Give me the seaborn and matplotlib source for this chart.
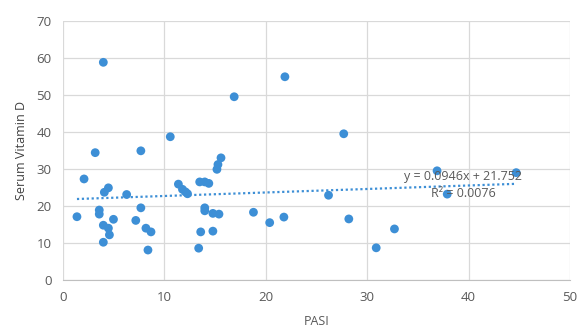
import numpy as np
import pandas as pd
import matplotlib
matplotlib.use("Agg")
import matplotlib.pyplot as plt
import seaborn as sns

# values
pasi = [1.4, 2.1, 3.2, 4.0, 3.6, 3.6, 4.1, 4.5, 4.0, 4.5, 4.6, 4.0, 5.0,
        6.3, 7.2, 7.7, 7.7, 8.2, 8.7, 8.4, 10.6, 11.4, 11.8, 12.1, 12.3,
        13.5, 14.0, 14.4, 14.0, 14.0, 14.8, 15.4, 13.6, 14.8, 13.4, 15.2,
        15.3, 15.6, 16.9, 21.9, 18.8, 20.4, 21.8, 27.7, 26.2, 28.2, 32.7,
        30.9, 36.9, 37.9, 44.7]
vit_d = [17.1, 27.3, 34.4, 58.8, 18.9, 17.8, 23.7, 24.9, 14.8, 14.0, 12.2,
         10.2, 16.4, 23.1, 16.1, 19.5, 34.9, 14.0, 13.0, 8.1, 38.7, 25.9,
         24.5, 23.8, 23.3, 26.5, 26.5, 26.1, 19.5, 18.7, 18.0, 17.8, 13.0,
         13.2, 8.6, 29.9, 31.2, 33.0, 49.5, 54.9, 18.3, 15.5, 17.0, 39.5,
         22.9, 16.5, 13.8, 8.7, 29.5, 23.2, 29.0]

# Excel linear trendline as printed on the chart
slope, intercept, r2 = 0.0946, 21.752, 0.0076

df = pd.DataFrame({"PASI": pasi, "Serum Vitamin D": vit_d})

sns.set_style("white")
plt.rcParams["font.family"] = ["Open Sans", "DejaVu Sans"]

fig = plt.figure(figsize=(5.81, 3.31), dpi=100)
ax = fig.add_axes([0.108, 0.154, 0.873, 0.783])

blue = "#3d8fd6"
grey = "#595959"

sns.scatterplot(data=df, x="PASI", y="Serum Vitamin D", ax=ax, color=blue,
                s=40, edgecolor="none", zorder=3)

xs = np.array([min(pasi), max(pasi)])
ax.plot(xs, slope * xs + intercept, color=blue, linestyle=(0, (1, 1.2)),
        linewidth=1.6, zorder=2)

ax.text(0.79, 0.40, f"y = {slope}x + {intercept}", transform=ax.transAxes,
        ha="center", va="center", color=grey, fontsize=9, zorder=4)
ax.text(0.79, 0.335, f"R² = {r2}", transform=ax.transAxes,
        ha="center", va="center", color=grey, fontsize=9, zorder=4)

ax.set_xlim(0, 50)
ax.set_ylim(0, 70)
ax.set_xticks(range(0, 51, 10))
ax.set_yticks(range(0, 71, 10))
ax.grid(True, color="#d9d9d9", linewidth=0.9)
ax.set_axisbelow(True)
for name, sp in ax.spines.items():
    sp.set_visible(name == "bottom")
ax.spines["bottom"].set_color("#bfbfbf")
ax.tick_params(length=0, labelsize=9.5, labelcolor=grey, pad=8)
ax.set_xlabel("PASI", color=grey, fontsize=9, labelpad=8)
ax.set_ylabel("Serum Vitamin D", color="#404040", fontsize=9, labelpad=6)

fig.savefig("out.png", dpi=100)
